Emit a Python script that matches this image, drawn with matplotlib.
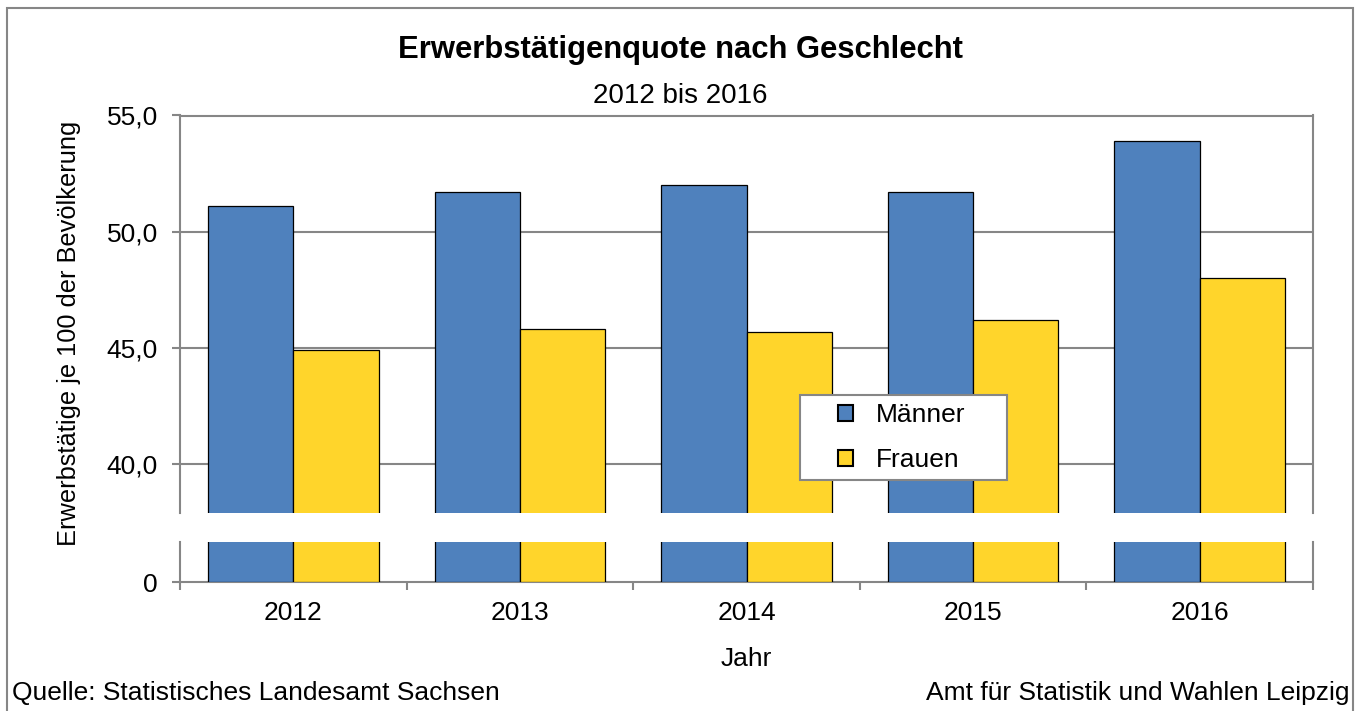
import numpy as np
import matplotlib.pyplot as plt
from matplotlib.patches import Rectangle

plt.rcParams['font.family'] = ['Liberation Sans', 'DejaVu Sans']

# Daten
jahre = ['2012', '2013', '2014', '2015', '2016']
maenner = [51.1, 51.7, 52.0, 51.7, 53.9]
frauen = [44.9, 45.8, 45.7, 46.2, 48.0]
y_ticks = [40, 45, 50, 55]

c_m = '#4F81BD'
c_f = '#FFD52B'
grau = '#868686'
fs = 19

fig = plt.figure(figsize=(13.62, 7.11), dpi=100)
W, H = 1362, 711

def fx(px):
    return px / W

def fy(py):
    return 1 - py / H

x0, x1 = 180, 1313
ax_top = fig.add_axes([fx(x0), fy(513), fx(x1 - x0), (513 - 115.5) / H])
ax_bot = fig.add_axes([fx(x0), fy(582), fx(x1 - x0), (582 - 542) / H])

x = np.arange(len(jahre))
bw = 0.376
for ax in (ax_top, ax_bot):
    ax.bar(x - bw / 2, maenner, bw, color=c_m, edgecolor='black', linewidth=0.9, zorder=3, label='Männer')
    ax.bar(x + bw / 2, frauen, bw, color=c_f, edgecolor='black', linewidth=0.9, zorder=3, label='Frauen')
    ax.set_xlim(-0.5, len(jahre) - 0.5)
    for s in ax.spines.values():
        s.set_color(grau)
        s.set_linewidth(1.5)

# oberer Teil (40 bis 55)
ax_top.set_ylim(37.9, 55)
ax_top.set_yticks(y_ticks)
ax_top.set_yticklabels([f'{v:.1f}'.replace('.', ',') for v in y_ticks])
ax_top.yaxis.grid(True, color=grau, linewidth=1.5, zorder=0)
ax_top.spines['bottom'].set_visible(False)
ax_top.set_xticks([])
ax_top.tick_params(axis='y', length=6, width=1.5, color=grau, labelsize=fs, pad=10)

# unterer Teil (ab 0)
ax_bot.set_ylim(0, 1.72)
ax_bot.set_yticks([0])
ax_bot.set_yticklabels(['0'])
ax_bot.spines['top'].set_visible(False)
ax_bot.tick_params(axis='y', length=6, width=1.5, color=grau, labelsize=fs, pad=10)
ax_bot.set_xticks(x)
ax_bot.set_xticklabels(jahre)
ax_bot.tick_params(axis='x', length=0, labelsize=fs, pad=14)
ax_bot.set_xticks(np.arange(-0.5, len(jahre)), minor=True)
ax_bot.tick_params(axis='x', which='minor', length=6, width=1.5, color=grau)

# Texte
fig.text(fx(681), fy(58), 'Erwerbstätigenquote nach Geschlecht', ha='center', va='baseline',
         fontsize=22.3, fontweight='bold')
fig.text(fx(680), fy(103), '2012 bis 2016', ha='center', va='baseline', fontsize=20)
fig.text(fx(69), fy(333), 'Erwerbstätige je 100 der Bevölkerung', ha='center', va='center',
         rotation=90, fontsize=18.3)
fig.text(fx(746), fy(666), 'Jahr', ha='center', va='baseline', fontsize=fs)
fig.text(fx(12), fy(700), 'Quelle: Statistisches Landesamt Sachsen', ha='left', va='baseline', fontsize=fs)
fig.text(fx(1350), fy(700), 'Amt für Statistik und Wahlen Leipzig', ha='right', va='baseline', fontsize=fs)

# Legende
box = Rectangle((fx(800), fy(480)), fx(1007 - 800), (480 - 395) / H, transform=fig.transFigure,
                facecolor='white', edgecolor=grau, linewidth=1.5, zorder=4)
fig.add_artist(box)
leg = fig.legend(*ax_top.get_legend_handles_labels(), loc='upper left',
                 bbox_to_anchor=(fx(838), fy(403)), bbox_transform=fig.transFigure,
                 fontsize=fs, frameon=False, handlelength=0.57, handleheight=0.57,
                 handletextpad=0.85, borderpad=0, labelspacing=0.8, borderaxespad=0)
leg.set_zorder(5)
for h in leg.legend_handles:
    h.set_linewidth(1.5)

# Rahmen
fig.add_artist(Rectangle((fx(7), -0.02), fx(1353 - 7), fy(8) + 0.02, transform=fig.transFigure,
                         fill=False, edgecolor=grau, linewidth=1.5))

fig.savefig('out.png', dpi=100)
